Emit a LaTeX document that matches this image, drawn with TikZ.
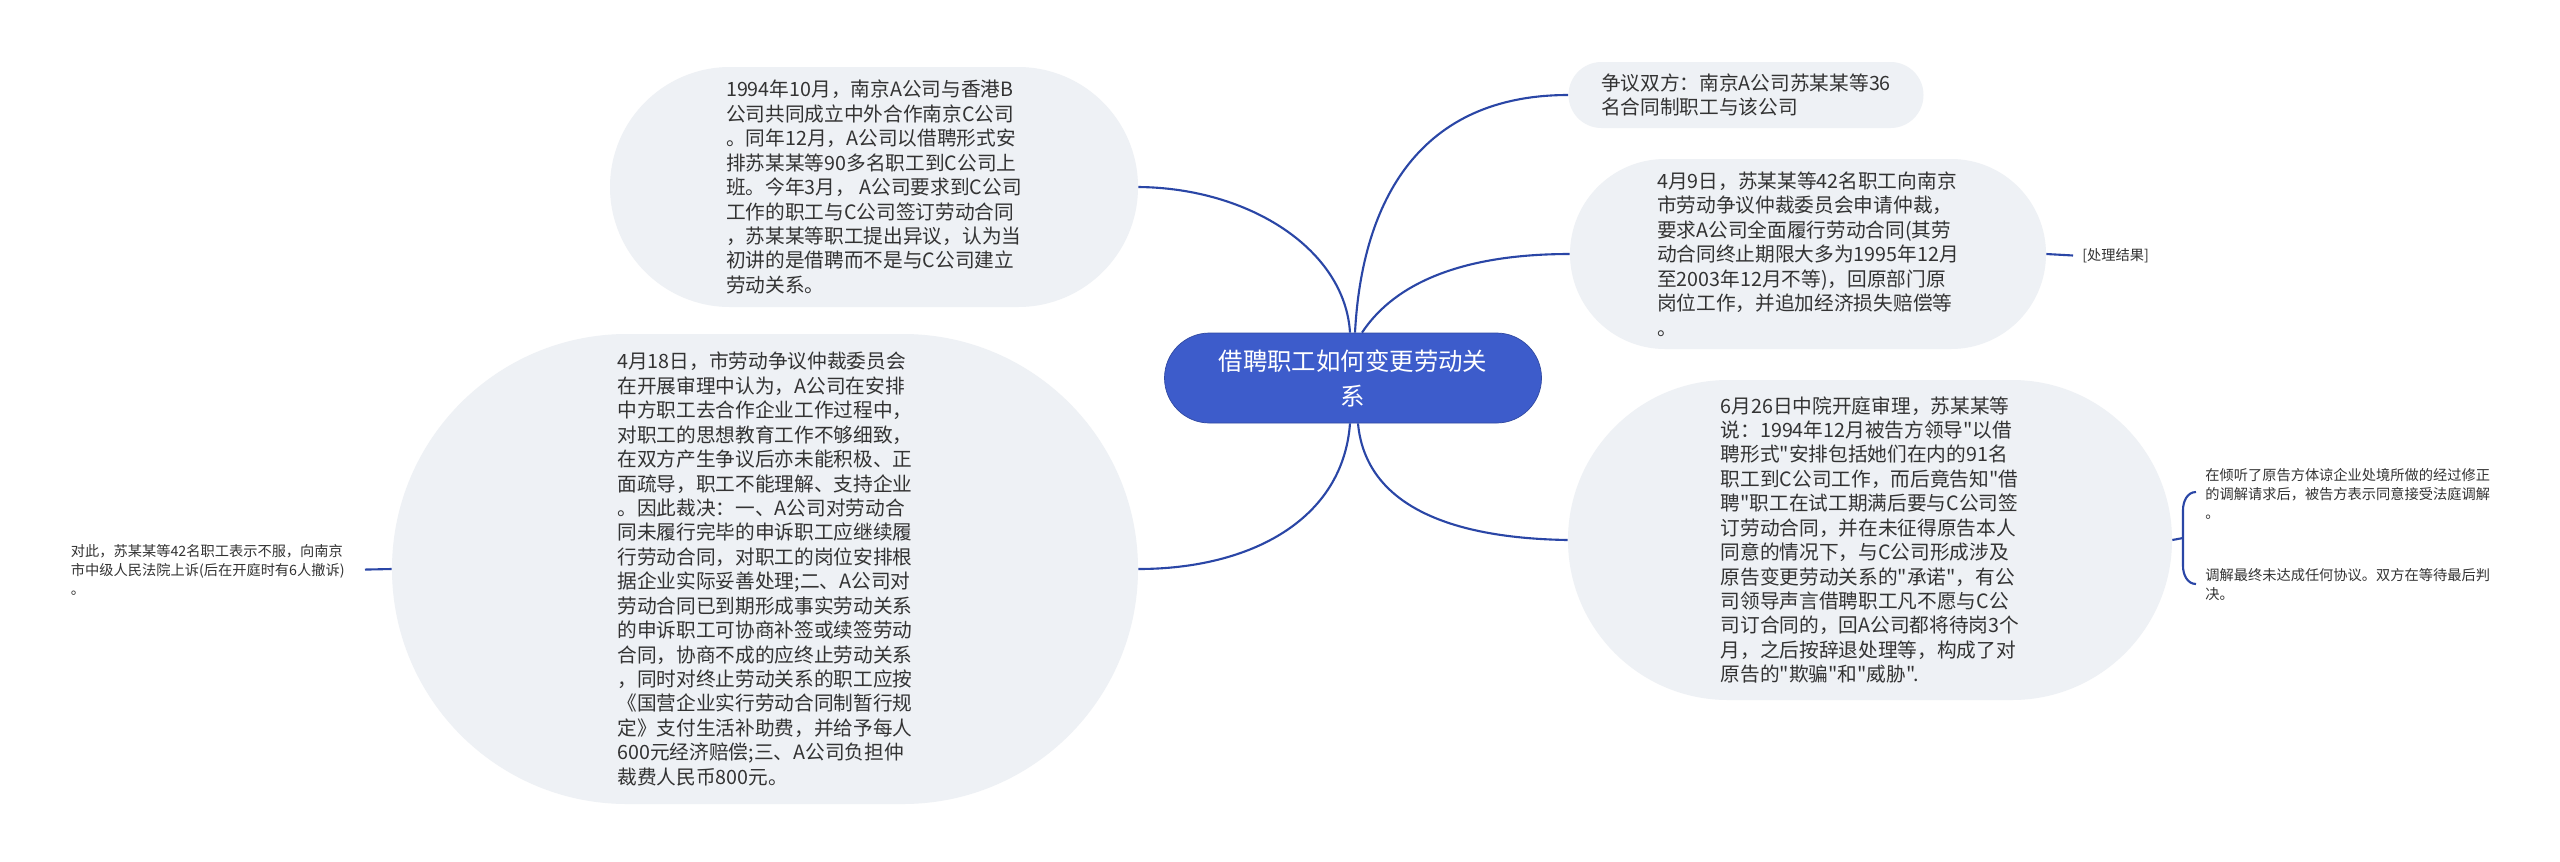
\documentclass[tikz,border=0pt]{standalone}
\usepackage{fontspec}
\setmainfont{Noto Sans CJK SC}[Ligatures=TeXOff]
\usetikzlibrary{positioning}
\definecolor{bubblefill}{HTML}{EEF1F5}
\definecolor{hubfill}{HTML}{3D5CCB}
\definecolor{linkblue}{HTML}{2A46A6}
\definecolor{textgray}{HTML}{333333}

\begin{document}
\begin{tikzpicture}[
    x=0.2mm, y=-0.2mm,
    bubble/.style={fill=bubblefill, rounded corners=#1, align=left, inner sep=0pt, text=textgray, font=\fontsize{11.2pt}{13.9pt}\selectfont},
    hub/.style={fill=hubfill, draw=hubfill!80!black, rounded corners=9mm, minimum width=75.4mm, minimum height=18mm, align=center, text=white, font=\fontsize{13.9pt}{19.9pt}\selectfont},
    note/.style={align=left, inner sep=0pt, text=textgray, font=\fontsize{8.1pt}{10.8pt}\selectfont},
    link/.style={draw=linkblue, line width=1.2pt}
]
\useasboundingbox[fill=white] (0,0) rectangle (2560,861);

\node[hub] (hub) at (1353,378) {借聘职工如何变更劳动关\\系};

\node[bubble=24mm, minimum width=105.6mm, minimum height=48mm] (n1994) at (874,187) {1994年10月，南京A公司与香港B\\公司共同成立中外合作南京C公司\\。同年12月，A公司以借聘形式安\\排苏某某等90多名职工到C公司上\\班。今年3月， A公司要求到C公司\\工作的职工与C公司签订劳动合同\\，苏某某等职工提出异议，认为当\\初讲的是借聘而不是与C公司建立\\劳动关系。};

\node[bubble=6.6mm, minimum width=71mm, minimum height=13.2mm] (nparty) at (1746,95) {争议双方：南京A公司苏某某等36\\名合同制职工与该公司};

\node[bubble=19mm, minimum width=95.2mm, minimum height=38mm] (napr9) at (1808,254) {4月9日，苏某某等42名职工向南京\\市劳动争议仲裁委员会申请仲裁，\\要求A公司全面履行劳动合同(其劳\\动合同终止期限大多为1995年12月\\至2003年12月不等)，回原部门原\\岗位工作，并追加经济损失赔偿等\\。};

\node[bubble=47mm, minimum width=149.2mm, minimum height=94mm] (napr18) at (765,569) {4月18日，市劳动争议仲裁委员会\\在开展审理中认为，A公司在安排\\中方职工去合作企业工作过程中，\\对职工的思想教育工作不够细致，\\在双方产生争议后亦未能积极、正\\面疏导，职工不能理解、支持企业\\。因此裁决：一、A公司对劳动合\\同未履行完毕的申诉职工应继续履\\行劳动合同，对职工的岗位安排根\\据企业实际妥善处理;二、A公司对\\劳动合同已到期形成事实劳动关系\\的申诉职工可协商补签或续签劳动\\合同，协商不成的应终止劳动关系\\，同时对终止劳动关系的职工应按\\《国营企业实行劳动合同制暂行规\\定》支付生活补助费，并给予每人\\600元经济赔偿;三、A公司负担仲\\裁费人民币800元。};

\node[bubble=32mm, minimum width=120.8mm, minimum height=64mm] (njun26) at (1870,540) {6月26日中院开庭审理，苏某某等\\说：1994年12月被告方领导"以借\\聘形式"安排包括她们在内的91名\\职工到C公司工作，而后竟告知"借\\聘"职工在试工期满后要与C公司签\\订劳动合同，并在未征得原告本人\\同意的情况下，与C公司形成涉及\\原告变更劳动关系的"承诺"，有公\\司领导声言借聘职工凡不愿与C公\\司订合同的，回A公司都将待岗3个\\月，之后按辞退处理等，构成了对\\原告的"欺骗"和"威胁".};

\node[note, anchor=east] (nappeal) at (345,570) {对此，苏某某等42名职工表示不服，向南京\\市中级人民法院上诉(后在开庭时有6人撤诉)\\。};
\node[note, anchor=west] (nresult) at (2082,256) {[处理结果]};
\node[note, anchor=west] (nmed1) at (2205,494) {在倾听了原告方体谅企业处境所做的经过修正\\的调解请求后，被告方表示同意接受法庭调解\\。};
\node[note, anchor=west] (nmed2) at (2205,585) {调解最终未达成任何协议。双方在等待最后判\\决。};
\coordinate (brace) at (2183,538);

% branches
\draw[link] ([xshift=-0.6mm]hub.north) .. controls (1345,250) and (1250,188) .. (n1994.east);
\draw[link] ([xshift=0.4mm]hub.north) .. controls (1362,200) and (1420,95) .. (nparty.west);
\draw[link] ([xshift=1.8mm]hub.north) .. controls (1390,290) and (1450,254) .. (napr9.west);
\draw[link] ([xshift=-0.6mm]hub.south) .. controls (1343,520) and (1250,569) .. (napr18.east);
\draw[link] ([xshift=1mm]hub.south) .. controls (1365,500) and (1440,538) .. (njun26.west);

% leaves
\draw[link, shorten <=4mm] (nappeal.east) -- (napr18.west);
\draw[link, shorten >=1.8mm] (napr9.east) -- (nresult.west);
\draw[link] (njun26.east) -- (brace);
\draw[link] (2196,492) to[out=180,in=90] (brace |- 0,510) -- (brace |- 0,566) to[out=-90,in=180] (2196,584);
\end{tikzpicture}
\end{document}
